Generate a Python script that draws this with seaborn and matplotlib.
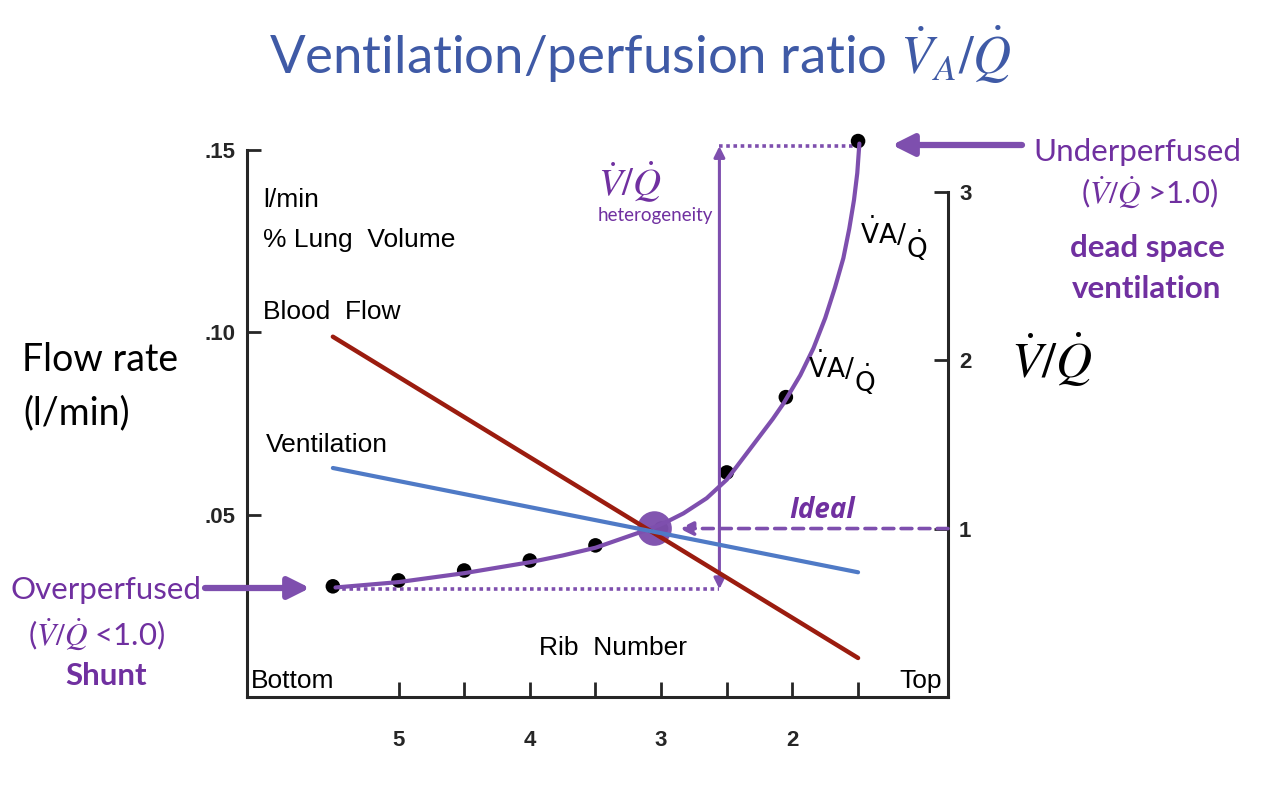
import matplotlib
matplotlib.use("Agg")
import matplotlib.pyplot as plt
import seaborn as sns
import pandas as pd

# rib positions (bottom -> top of lung)
ribs_line = [5.5, 1.5]
blood_flow = [0.0988, 0.0107]
ventilation = [0.0628, 0.0342]

# measured V/Q points
ribs_dots = [5.5, 5.0, 4.5, 4.0, 3.5, 3.0, 2.5, 2.05, 1.5]
vq_dots = [0.657, 0.692, 0.751, 0.81, 0.90, 1.0, 1.333, 1.78, 3.30]

# purple V/Q curve
ribs_curve = [5.48, 5.0, 4.5, 4.0, 3.75, 3.5, 3.16, 3.06, 2.957, 2.83, 2.653,
              2.5, 2.32, 2.15, 2.07, 1.94, 1.84, 1.75, 1.676, 1.612, 1.567,
              1.531, 1.506, 1.49]
vq_curve = [0.65, 0.682, 0.735, 0.80, 0.84, 0.886, 0.978, 1.005, 1.04, 1.09, 1.18,
            1.29, 1.475, 1.65, 1.74, 1.91, 2.07, 2.25, 2.43, 2.605, 2.78,
            2.95, 3.11, 3.285]

ideal_rib, ideal_vq = 3.05, 1.0
x_ticks = [5, 4.5, 4, 3.5, 3, 2.5, 2, 1.5]
x_labels = ["5", "", "4", "", "3", "", "2", ""]
flow_ticks = [0.05, 0.10, 0.15]
flow_labels = [".05", ".10", ".15"]
vq_ticks = [1, 2, 3]

PURPLE = "#7E4FAE"
PTEXT = "#7030A0"
RED = "#9B1C0F"
BLUE = "#4F7AC6"
TITLE = "#3F5AA6"

sns.set_style("ticks")
plt.rcParams["font.family"] = ["Liberation Sans", "DejaVu Sans"]

fig = plt.figure(figsize=(12.8, 8), dpi=100)
ax = fig.add_axes([247 / 1280, 103 / 800, 701 / 1280, 547 / 800])
ax2 = ax.twinx()
ax.set_zorder(ax2.get_zorder() + 1)
ax.patch.set_visible(False)

df_lines = pd.DataFrame({"rib": ribs_line, "blood": blood_flow, "vent": ventilation})
sns.lineplot(data=df_lines, x="rib", y="blood", color=RED, lw=3.2, ax=ax)
sns.lineplot(data=df_lines, x="rib", y="vent", color=BLUE, lw=3.0, ax=ax)

# V/Q stuff on the right axis
df_dots = pd.DataFrame({"rib": ribs_dots, "vq": vq_dots})
df_curve = pd.DataFrame({"rib": ribs_curve, "vq": vq_curve})
sns.scatterplot(data=df_dots, x="rib", y="vq", color="black", s=110,
                edgecolor="none", clip_on=False, zorder=3, ax=ax2)
sns.lineplot(data=df_curve, x="rib", y="vq", color=PURPLE, lw=3.0,
             clip_on=False, zorder=4, ax=ax2)
ax2.scatter([ideal_rib], [ideal_vq], s=620, color=PURPLE, alpha=0.97,
            zorder=3.5, edgecolor="none")

# heterogeneity arrow and dotted guides
lo, hi = 0.64, 3.27
ax2.annotate("", xy=(2.556, hi), xytext=(2.556, lo),
             arrowprops=dict(arrowstyle="<|-|>", color=PURPLE, lw=2.2,
                             mutation_scale=16, shrinkA=0, shrinkB=0),
             annotation_clip=False, zorder=5)
ax2.plot([2.556, 1.52], [hi, hi], ls=(0, (1, 1)), color=PURPLE, lw=2.6, clip_on=False)
ax2.plot([5.48, 2.556], [lo, lo], ls=(0, (1, 1)), color=PURPLE, lw=2.6, clip_on=False)

# ideal dashed arrow
ax2.annotate("", xy=(2.86, 1.0), xytext=(0.815, 1.0),
             arrowprops=dict(arrowstyle="-|>", color=PURPLE, lw=2.6,
                             linestyle=(0, (3, 2)), mutation_scale=20,
                             shrinkA=0, shrinkB=0),
             annotation_clip=False)

# axes look
ax.set_xlim(6.154, 0.815)
ax.set_ylim(0, 0.15)
ax2.set_ylim(0, 3.247)
ax.set_xticks(x_ticks)
ax.set_xticklabels(x_labels, fontsize=16, fontweight="bold")
ax.set_yticks(flow_ticks)
ax.set_yticklabels(flow_labels, fontsize=16, fontweight="bold")
ax2.set_yticks(vq_ticks)
ax2.set_yticklabels([str(v) for v in vq_ticks], fontsize=16, fontweight="bold")
ax.set_xlabel("")
ax.set_ylabel("")
ax2.set_ylabel("")
ax.tick_params(axis="x", direction="in", length=11, width=2, pad=24)
ax.tick_params(axis="y", direction="in", length=10, width=2, pad=8)
ax2.tick_params(axis="y", direction="in", length=10, width=2, pad=8)
for a in (ax, ax2):
    a.spines["top"].set_visible(False)
    for s in a.spines.values():
        s.set_linewidth(2.2)
ax.spines["right"].set_visible(False)
ax2.spines["left"].set_visible(False)
ax2.spines["bottom"].set_visible(False)
ax2.spines["right"].set_bounds(0, 3)
ax.spines["left"].set_bounds(0, 0.15)


def fp(x, y):
    return x / 1280, 1 - y / 800


# labels inside the plot
lab = dict(fontsize=19, color="black", va="center")
fig.text(*fp(263, 200), "l/min", ha="left", **lab)
fig.text(*fp(263, 240), "% Lung  Volume", ha="left", **lab)
fig.text(*fp(263, 312), "Blood  Flow", ha="left", **lab)
fig.text(*fp(266, 445), "Ventilation", ha="left", **lab)
fig.text(*fp(613, 648), "Rib  Number", ha="center", **lab)
fig.text(*fp(251, 681), "Bottom", ha="left", **lab)
fig.text(*fp(942, 681), "Top", ha="right", **lab)
for (x0, y0) in [(860, 232), (808, 366)]:
    fig.text(*fp(x0, y0), r"$\dot{\mathrm{V}}\mathrm{A}/$", ha="left",
             math_fontfamily="dejavusans", **lab)
    fig.text(*fp(x0 + 46, y0 + 13), r"$\dot{\mathrm{Q}}$", ha="left",
             math_fontfamily="dejavusans", **lab)

# purple annotations
fig.text(*fp(630, 182), r"$\dot{V}/\dot{Q}$", ha="center", va="center",
         fontsize=28, color=PTEXT, math_fontfamily="stix")
fig.text(*fp(655, 216), "heterogeneity", ha="center", va="center",
         fontsize=13.5, color=PTEXT, family=["Lato", "DejaVu Sans"])
fig.text(*fp(822, 510), "Ideal", ha="center", va="center", fontsize=20,
         fontweight="bold", fontstyle="italic", color=PTEXT,
         family=["Open Sans", "DejaVu Sans"])

side = dict(ha="center", va="center", fontsize=22.5, color=PTEXT,
            family=["Lato", "DejaVu Sans"], math_fontfamily="stix")
fig.text(*fp(1137, 152), "Underperfused", **side)
fig.text(*fp(1150, 193), r"($\dot{V}/\dot{Q}$ >1.0)", **side)
fig.text(*fp(1147, 248), "dead space", fontweight="bold", **side)
fig.text(*fp(1147, 289), "ventilation", fontweight="bold", **side)
fig.text(*fp(106, 590), "Overperfused", **side)
fig.text(*fp(97, 635), r"($\dot{V}/\dot{Q}$ <1.0)", **side)
fig.text(*fp(106, 676), "Shunt", fontweight="bold", **side)

big_arrow = dict(arrowstyle="-|>", color=PURPLE, lw=4.5, mutation_scale=32,
                 shrinkA=0, shrinkB=0)
ax.annotate("", xy=fp(892, 145), xytext=fp(1022, 145), xycoords="figure fraction",
            textcoords="figure fraction", arrowprops=big_arrow, annotation_clip=False)
ax.annotate("", xy=fp(310, 588), xytext=fp(205, 588), xycoords="figure fraction",
            textcoords="figure fraction", arrowprops=big_arrow, annotation_clip=False)

# axis titles
fig.text(*fp(100, 360), "Flow rate", ha="center", va="center", fontsize=27,
         color="black", family=["Lato", "DejaVu Sans"])
fig.text(*fp(77, 413), "(l/min)", ha="center", va="center", fontsize=27,
         color="black", family=["Lato", "DejaVu Sans"])
fig.text(*fp(1052, 360), r"$\dot{V}/\dot{Q}$", ha="center", va="center",
         fontsize=36, color="black", math_fontfamily="stix")

fig.text(*fp(640, 55), r"Ventilation/perfusion ratio $\dot{V}_A/\dot{Q}$",
         ha="center", va="center", fontsize=38, color=TITLE,
         family=["Lato", "DejaVu Sans"], math_fontfamily="stix")

fig.savefig("out.png", dpi=100)
